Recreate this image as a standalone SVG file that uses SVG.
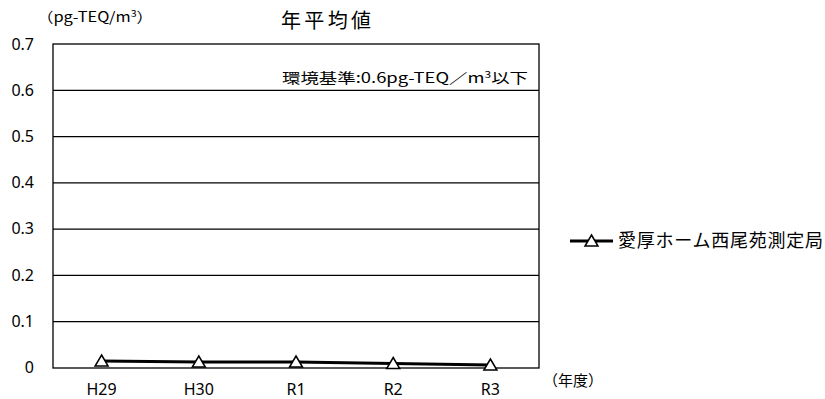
<svg xmlns="http://www.w3.org/2000/svg" width="825" height="399" viewBox="0 0 825 399">
<style>
.t{font-family:"Noto Sans CJK JP","Noto Sans",sans-serif;fill:#000}
.ax{font-family:"Noto Sans","Open Sans",sans-serif;font-size:16px;fill:#000}
.grid{stroke:#000;stroke-width:1.3;fill:none}
.series{stroke:#000;stroke-width:3;fill:none}
.mk{fill:#fff;stroke:#000;stroke-width:1.5}
</style>
<defs>
<path id="tri" d="M0,-6 L6.5,5 L-6.5,5 Z" class="mk"/>
</defs>
<rect width="825" height="399" fill="#fff"/>
<g id="title"><text class="t" x="326" y="28" font-size="20" text-anchor="middle" textLength="90" lengthAdjust="spacing">年平均値</text></g>
<g id="unit"><text class="t" x="37" y="22" font-size="14" textLength="116" lengthAdjust="spacingAndGlyphs">（pg-TEQ/m<tspan font-size="9" dy="-5">3</tspan><tspan dy="5">）</tspan></text></g>
<g id="plot">
<rect x="53" y="44" width="486" height="324" class="grid"/>
<line x1="53" y1="90.3" x2="539" y2="90.3" class="grid"/>
<line x1="53" y1="136.6" x2="539" y2="136.6" class="grid"/>
<line x1="53" y1="182.9" x2="539" y2="182.9" class="grid"/>
<line x1="53" y1="229.1" x2="539" y2="229.1" class="grid"/>
<line x1="53" y1="275.4" x2="539" y2="275.4" class="grid"/>
<line x1="53" y1="321.7" x2="539" y2="321.7" class="grid"/>
</g>
<g id="yaxis">
<text class="ax" x="34" y="50" text-anchor="end">0.7</text>
<text class="ax" x="34" y="96" text-anchor="end">0.6</text>
<text class="ax" x="34" y="142" text-anchor="end">0.5</text>
<text class="ax" x="34" y="188" text-anchor="end">0.4</text>
<text class="ax" x="34" y="234" text-anchor="end">0.3</text>
<text class="ax" x="34" y="281" text-anchor="end">0.2</text>
<text class="ax" x="34" y="327" text-anchor="end">0.1</text>
<text class="ax" x="34" y="373" text-anchor="end">0</text>
</g>
<g id="xaxis">
<text class="ax" x="101.6" y="395" text-anchor="middle">H29</text>
<text class="ax" x="198.8" y="395" text-anchor="middle">H30</text>
<text class="ax" x="296" y="395" text-anchor="middle">R1</text>
<text class="ax" x="393.2" y="395" text-anchor="middle">R2</text>
<text class="ax" x="490.4" y="395" text-anchor="middle">R3</text>
<text class="t" x="543" y="386" font-size="15">（年度）</text>
</g>
<g id="annotation"><text class="t" x="528" y="83" font-size="14" text-anchor="end" textLength="246" lengthAdjust="spacingAndGlyphs">環境基準:0.6pg-TEQ／m<tspan font-size="9" dy="-5">3</tspan><tspan dy="5">以下</tspan></text></g>
<g id="connectors">
<polyline class="series" points="101.6,361 198.8,362 296,362 393.2,363.5 490.4,365"/>
</g>
<g id="markers">
<use href="#tri" x="101.6" y="361"/>
<use href="#tri" x="198.8" y="362"/>
<use href="#tri" x="296" y="362"/>
<use href="#tri" x="393.2" y="363.5"/>
<use href="#tri" x="490.4" y="365"/>
</g>
<g id="legend">
<line x1="570" y1="241" x2="613" y2="241" class="series"/>
<use href="#tri" x="591.5" y="241"/>
<text class="t" x="618" y="247" font-size="18" textLength="205" lengthAdjust="spacing">愛厚ホーム西尾苑測定局</text>
</g>
</svg>
